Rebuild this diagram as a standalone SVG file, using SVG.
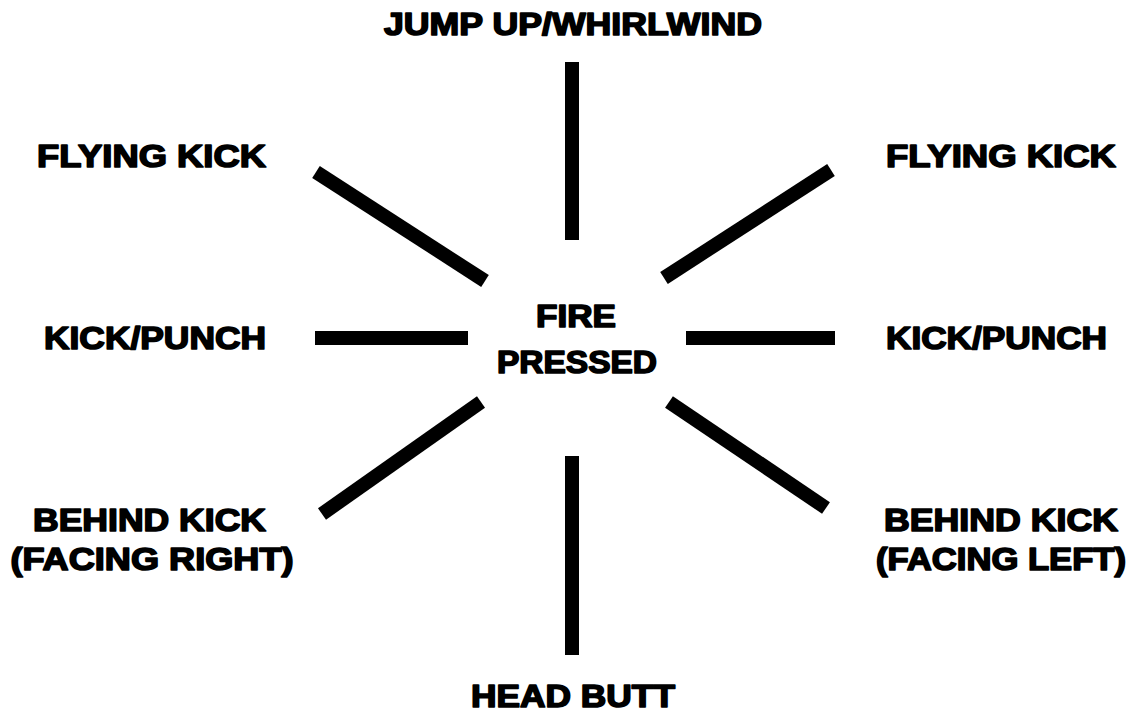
<svg xmlns="http://www.w3.org/2000/svg" width="1143" height="717" viewBox="0 0 1143 717">
<style>
.t{font-family:"Liberation Sans",Arial,sans-serif;font-weight:bold;font-size:31px;fill:#000;stroke:#000;stroke-width:1.6;stroke-linejoin:round;text-anchor:middle}
.c line{stroke:#000;stroke-width:14;stroke-linecap:butt}
</style>
<rect width="1143" height="717" fill="#fff"/>
<g id="center"><text class="t" x="576" y="327" textLength="80" lengthAdjust="spacingAndGlyphs">FIRE</text><text class="t" x="577" y="373" textLength="160" lengthAdjust="spacingAndGlyphs">PRESSED</text></g>
<g id="n-up"><text class="t" x="573" y="35" textLength="378" lengthAdjust="spacingAndGlyphs">JUMP UP/WHIRLWIND</text></g>
<g id="n-ul"><text class="t" x="151.5" y="167" textLength="229" lengthAdjust="spacingAndGlyphs">FLYING KICK</text></g>
<g id="n-ur"><text class="t" x="1001" y="167" textLength="230" lengthAdjust="spacingAndGlyphs">FLYING KICK</text></g>
<g id="n-l"><text class="t" x="155" y="349" textLength="222" lengthAdjust="spacingAndGlyphs">KICK/PUNCH</text></g>
<g id="n-r"><text class="t" x="996.5" y="349" textLength="221" lengthAdjust="spacingAndGlyphs">KICK/PUNCH</text></g>
<g id="n-dl"><text class="t" x="149.5" y="531" textLength="233" lengthAdjust="spacingAndGlyphs">BEHIND KICK</text><text class="t" x="152" y="570" textLength="283" lengthAdjust="spacingAndGlyphs">(FACING RIGHT)</text></g>
<g id="n-dr"><text class="t" x="1001" y="531" textLength="234" lengthAdjust="spacingAndGlyphs">BEHIND KICK</text><text class="t" x="1001" y="570" textLength="250" lengthAdjust="spacingAndGlyphs">(FACING LEFT)</text></g>
<g id="n-down"><text class="t" x="573" y="707" textLength="204" lengthAdjust="spacingAndGlyphs">HEAD BUTT</text></g>
<g id="connectors" class="c">
<line x1="572" y1="62" x2="572" y2="240"/>
<line x1="572" y1="456" x2="572" y2="655"/>
<line x1="316" y1="172" x2="485" y2="281"/>
<line x1="664" y1="278" x2="831" y2="170"/>
<line x1="315" y1="338" x2="468" y2="338"/>
<line x1="686" y1="338" x2="835" y2="338"/>
<line x1="481" y1="402" x2="322" y2="514"/>
<line x1="669" y1="402" x2="826" y2="508"/>
</g>
</svg>
